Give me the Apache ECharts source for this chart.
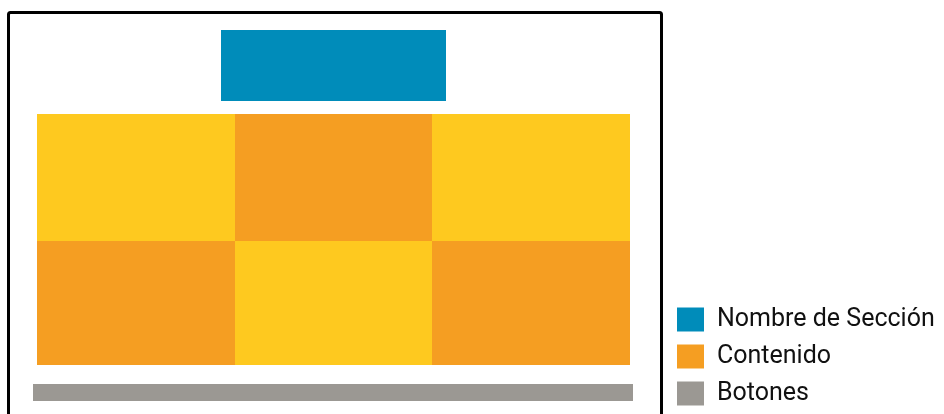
<!DOCTYPE html>
<html>
<head>
<meta charset="utf-8">
<script src="https://cdn.jsdelivr.net/npm/echarts@6/dist/echarts.min.js"></script>
<style>
html,body{margin:0;padding:0;background:#fff;}
#chart{width:944px;height:414px;}
</style>
</head>
<body>
<div id="chart"></div>
<script>
// Layout diagram data, in diagram units [x0, y0, x1, y1]
const seriesNames = ['Nombre de Sección', 'Contenido', 'Botones'];
const sectionBox = [[221, 30, 446, 101]];
const contentCells = [
  [37, 114, 235, 241], [235, 114, 432, 241], [432, 114, 630, 241],
  [37, 241, 235, 365], [235, 241, 432, 365], [432, 241, 630, 365]
];
const buttonBar = [[33, 384, 633, 401]];
const pageFrame = [[8.5, 12.5, 661.5, 440]];

const BLUE = '#008cba', ORANGE = '#f59e22', YELLOW = '#fec91f', GRAY = '#9b9893';

function rectItem(colorFn) {
  return function (params, api) {
    const p0 = api.coord([api.value(0), api.value(1)]);
    const p1 = api.coord([api.value(2), api.value(3)]);
    return {
      type: 'rect',
      shape: {x: p0[0], y: p0[1], width: p1[0] - p0[0], height: p1[1] - p0[1]},
      style: {fill: colorFn(params.dataIndex, api)}
    };
  };
}

const chart = echarts.init(document.getElementById('chart'), null, {renderer: 'canvas'});
chart.setOption({
  animation: false,
  grid: {left: 0, top: 0, width: 944, height: 414, containLabel: false},
  xAxis: {type: 'value', min: 0, max: 944, show: false},
  yAxis: {type: 'value', min: 0, max: 414, inverse: true, show: false},
  legend: {
    data: seriesNames,
    orient: 'vertical',
    left: 677, top: 307, padding: 0,
    icon: 'rect', itemWidth: 27, itemHeight: 24, itemGap: 12,
    selectedMode: false,
    textStyle: {fontFamily: 'Roboto', fontSize: 25, lineHeight: 19, color: '#111', padding: [4, 0, 0, 8]}
  },
  series: [
    {
      name: 'frame', type: 'custom', clip: false, silent: true,
      data: pageFrame,
      renderItem: function (params, api) {
        const p0 = api.coord([api.value(0), api.value(1)]);
        const p1 = api.coord([api.value(2), api.value(3)]);
        return {
          type: 'rect',
          shape: {x: p0[0], y: p0[1], width: p1[0] - p0[0], height: p1[1] - p0[1], r: 2},
          style: {fill: 'none', stroke: '#000', lineWidth: 3}
        };
      }
    },
    {
      name: seriesNames[0], type: 'custom', clip: false, silent: true,
      itemStyle: {color: BLUE},
      data: sectionBox,
      renderItem: rectItem(() => BLUE)
    },
    {
      name: seriesNames[1], type: 'custom', clip: false, silent: true,
      itemStyle: {color: ORANGE},
      data: contentCells,
      renderItem: rectItem((i) => (i % 2 === 0 ? YELLOW : ORANGE))
    },
    {
      name: seriesNames[2], type: 'custom', clip: false, silent: true,
      itemStyle: {color: GRAY},
      data: buttonBar,
      renderItem: rectItem(() => GRAY)
    }
  ]
});
</script>
</body>
</html>
